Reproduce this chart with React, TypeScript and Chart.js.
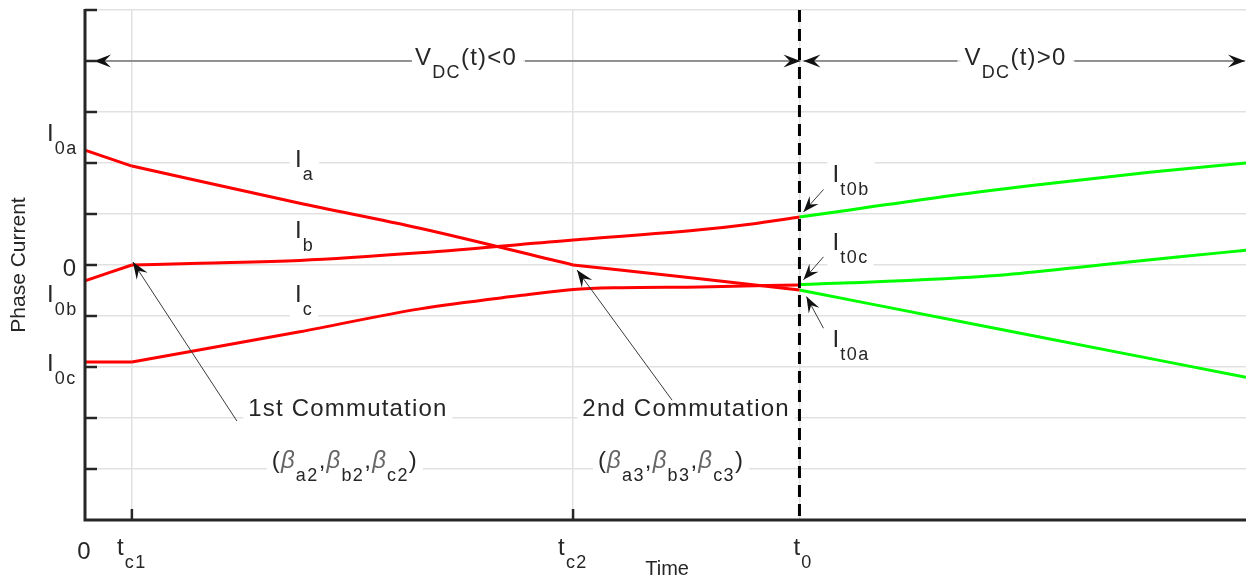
import React, { useEffect, useRef } from 'react';
import { Chart, registerables } from 'chart.js';

Chart.register(...registerables);

// ---- axis / event times ----
const T_C1 = 1.05;
const T_C2 = 10.93;
const T_0 = 16;
const T_END = 26;
const Y_MIN = -5;
const Y_MAX = 5;
const X_GRID_TICKS = [T_C1, T_C2, T_0];

// ---- phase currents before t0 (red) ----
const tA_red = [0, 1.05, 4.81, 7.5, 10.93, 13.77, 16];
const iA_red = [2.25, 1.94, 1.21, 0.72, 0, -0.27, -0.49];
const tB_red = [0, 1.05, 2.58, 4.81, 7.5, 10.93, 13.77, 14.89, 16];
const iB_red = [-0.31, 0, 0.035, 0.09, 0.24, 0.49, 0.69, 0.8, 0.94];
const tC_red = [0, 1.05, 4.81, 7.5, 9.74, 10.93, 12.0, 13.77, 16];
const iC_red = [-1.9, -1.9, -1.31, -0.86, -0.6, -0.48, -0.445, -0.43, -0.39];

// ---- phase currents after t0 (green) ----
const tA_green = [16, 20.49, 26];
const iA_green = [-0.49, -1.26, -2.2];
const tB_green = [16, 17.13, 19.37, 21.6, 23.84, 26];
const iB_green = [0.94, 1.08, 1.36, 1.6, 1.82, 2.0];
const tC_green = [16, 17.13, 20.49, 22.73, 24.52, 26];
const iC_green = [-0.38, -0.35, -0.2, 0, 0.16, 0.29];

// ---- texts ----
const Y_TITLE = 'Phase Current';
const X_TITLE = 'Time';
const COMM1 = '1st Commutation';
const COMM2 = '2nd Commutation';

const RED = '#ff0000';
const GREEN = '#00ff00';
const GRID = '#e1e1e1';
const INK = '#262626';
const BETA_COL = '#666666';
const FONT = '"Liberation Sans", Arial, Helvetica, sans-serif';
const BASE = 24;
const SUB = 18;
const SUB_DROP = 13;

type Part = { t: string; sub?: boolean; it?: boolean; col?: string };
type Pt = { x: number; y: number };

const zip = (xs: number[], ys: number[]): Pt[] => xs.map((x, i) => ({ x, y: ys[i] }));

// split a polyline at the given break times (kinks) into pieces
function pieces(xs: number[], ys: number[], breaks: number[]): Pt[][] {
  const pts = zip(xs, ys);
  const out: Pt[][] = [];
  let cur: Pt[] = [];
  for (const p of pts) {
    cur.push(p);
    if (breaks.includes(p.x) && cur.length > 1) {
      out.push(cur);
      cur = [p];
    }
  }
  if (cur.length > 1) out.push(cur);
  return out;
}

function setFont(ctx: CanvasRenderingContext2D, p: Part) {
  const size = p.sub ? SUB : BASE;
  ctx.font = `${p.it ? 'italic ' : ''}${size}px ${FONT}`;
  (ctx as any).letterSpacing = p.sub ? '1.4px' : '1.2px';
}

function richWidth(ctx: CanvasRenderingContext2D, parts: Part[]) {
  let w = 0;
  for (const p of parts) {
    setFont(ctx, p);
    w += ctx.measureText(p.t).width;
  }
  return w;
}

function drawRich(
  ctx: CanvasRenderingContext2D,
  parts: Part[],
  x: number,
  y: number,
  align: 'left' | 'center',
  box = false,
) {
  ctx.save();
  ctx.textAlign = 'left';
  ctx.textBaseline = 'alphabetic';
  const w = richWidth(ctx, parts);
  let cx = align === 'center' ? x - w / 2 : x;
  const hasSub = parts.some((p) => p.sub);
  if (box) {
    ctx.fillStyle = '#ffffff';
    const top = y - 22;
    const bottom = hasSub ? y + SUB_DROP + 5 : y + 7;
    ctx.fillRect(cx - 5, top, w + 10, bottom - top);
  }
  for (const p of parts) {
    setFont(ctx, p);
    ctx.fillStyle = p.col || INK;
    ctx.fillText(p.t, cx, p.sub ? y + SUB_DROP : y);
    cx += ctx.measureText(p.t).width;
  }
  ctx.restore();
}

function arrowHead(ctx: CanvasRenderingContext2D, fx: number, fy: number, tx: number, ty: number, L = 17, W = 6.5) {
  const dx = tx - fx;
  const dy = ty - fy;
  const len = Math.hypot(dx, dy);
  const ux = dx / len;
  const uy = dy / len;
  const nx = -uy;
  const ny = ux;
  const bx = tx - ux * L;
  const by = ty - uy * L;
  const mx = tx - ux * L * 0.62;
  const my = ty - uy * L * 0.62;
  ctx.beginPath();
  ctx.moveTo(tx, ty);
  ctx.lineTo(bx + nx * W, by + ny * W);
  ctx.lineTo(mx, my);
  ctx.lineTo(bx - nx * W, by - ny * W);
  ctx.closePath();
  ctx.fill();
}

function arrow(ctx: CanvasRenderingContext2D, fx: number, fy: number, tx: number, ty: number, L = 17, W = 6.5) {
  ctx.save();
  ctx.strokeStyle = '#3a3a3a';
  ctx.fillStyle = '#111111';
  ctx.lineWidth = 1;
  ctx.beginPath();
  ctx.moveTo(fx, fy);
  ctx.lineTo(tx, ty);
  ctx.stroke();
  arrowHead(ctx, fx, fy, tx, ty, L, W);
  ctx.restore();
}

const beta = (n: string): Part[] => [
  { t: '(' },
  { t: 'β', it: true, col: BETA_COL },
  { t: 'a' + n, sub: true },
  { t: ',' },
  { t: 'β', it: true, col: BETA_COL },
  { t: 'b' + n, sub: true },
  { t: ',' },
  { t: 'β', it: true, col: BETA_COL },
  { t: 'c' + n, sub: true },
  { t: ')' },
];

const annotPlugin = {
  id: 'annot',
  beforeDatasetsDraw(chart: any) {
    const ctx: CanvasRenderingContext2D = chart.ctx;
    const xs = chart.scales.x;
    const ys = chart.scales.y;
    const px = (v: number) => xs.getPixelForValue(v);
    const py = (v: number) => ys.getPixelForValue(v);
    const yArrow = py(4);

    // in-plot labels with white boxes
    drawRich(ctx, [{ t: 'I' }, { t: 'a', sub: true }], px(T_C1) + 163, py(2) + 4, 'left', true);
    drawRich(ctx, [{ t: 'I' }, { t: 'b', sub: true }], px(T_C1) + 163, py(1) + 24, 'left', true);
    drawRich(ctx, [{ t: 'I' }, { t: 'c', sub: true }], px(T_C1) + 163, py(-1) - 14, 'left', true);
    drawRich(ctx, [{ t: 'I' }, { t: 't0b', sub: true }], px(T_0) + 33, py(2) + 19, 'left', true);
    drawRich(ctx, [{ t: 'I' }, { t: 't0c', sub: true }], px(T_0) + 33, py(0) - 15, 'left', true);
    drawRich(ctx, [{ t: 'I' }, { t: 't0a', sub: true }], px(T_0) + 33, py(-1) + 31, 'left', true);
    drawRich(ctx, [{ t: COMM1 }], px(T_C1) + 216, py(-3) - 2, 'center', true);
    drawRich(ctx, beta('2'), px(T_C1) + 213, py(-4) - 1, 'center', true);
    drawRich(ctx, [{ t: COMM2 }], px(T_C2) + 113, py(-3) - 2, 'center', true);
    drawRich(ctx, beta('3'), px(T_C2) + 98, py(-4) - 1, 'center', true);

    // V_DC arrows
    ctx.save();
    const w1 = richWidth(ctx, [{ t: 'V' }, { t: 'DC', sub: true }, { t: '(t)<0' }]);
    ctx.restore();
    const x1 = px(0) + 330;
    const x2 = px(T_0) + 165;
    ctx.save();
    ctx.fillStyle = '#ffffff';
    ctx.fillRect(x1 - 4, yArrow - 3, w1 + 10, 6);
    ctx.fillRect(x2 - 4, yArrow - 3, w1 + 10, 6);
    ctx.restore();
    drawRich(ctx, [{ t: 'V' }, { t: 'DC', sub: true }, { t: '(t)<0' }], x1, yArrow + 4, 'left');
    drawRich(ctx, [{ t: 'V' }, { t: 'DC', sub: true }, { t: '(t)>0' }], x2, yArrow + 4, 'left');
    arrow(ctx, x1 - 3, yArrow, px(0) + 9, yArrow);
    arrow(ctx, x1 + w1 + 8, yArrow, px(T_0) + 1, yArrow);
    arrow(ctx, x2 - 7, yArrow, px(T_0) + 4, yArrow);
    arrow(ctx, x2 + w1 + 8, yArrow, chart.chartArea.right - 1, yArrow);
  },
  afterDatasetsDraw(chart: any) {
    const ctx: CanvasRenderingContext2D = chart.ctx;
    const xs = chart.scales.x;
    const ys = chart.scales.y;
    const area = chart.chartArea;
    const px = (v: number) => xs.getPixelForValue(v);
    const py = (v: number) => ys.getPixelForValue(v);

    // dashed t0 line
    ctx.save();
    ctx.strokeStyle = '#000000';
    ctx.lineWidth = 3;
    ctx.setLineDash([12, 7]);
    ctx.beginPath();
    ctx.moveTo(px(T_0), area.top);
    ctx.lineTo(px(T_0), area.bottom);
    ctx.stroke();
    ctx.restore();

    // axes
    ctx.save();
    ctx.strokeStyle = INK;
    ctx.lineWidth = 3;
    ctx.beginPath();
    ctx.moveTo(area.left, area.top - 1);
    ctx.lineTo(area.left, area.bottom);
    ctx.lineTo(area.right, area.bottom);
    ctx.stroke();
    ctx.lineWidth = 2.5;
    for (let v = Y_MIN + 1; v <= Y_MAX; v++) {
      ctx.beginPath();
      ctx.moveTo(area.left, py(v));
      ctx.lineTo(area.left + 12, py(v));
      ctx.stroke();
    }
    for (const t of [T_C1, T_C2]) {
      ctx.beginPath();
      ctx.moveTo(px(t), area.bottom);
      ctx.lineTo(px(t), area.bottom - 11);
      ctx.stroke();
    }
    ctx.restore();

    // annotation arrows
    arrow(ctx, px(T_C1) + 105, py(-3) + 3, px(T_C1) + 1, py(0) - 3);
    arrow(ctx, px(T_C2) + 99, py(-2.65), px(T_C2) + 4, py(-0.1));
    arrow(ctx, px(T_0) + 24, py(1.48), px(T_0) + 4, py(1.04), 16, 6);
    arrow(ctx, px(T_0) + 24, py(0.16), px(T_0) + 4, py(-0.29), 16, 6);
    arrow(ctx, px(T_0) + 24, py(-1.24), px(T_0) + 7, py(-0.62), 16, 6);

    // outer labels
    drawRich(ctx, [{ t: 'I' }, { t: '0a', sub: true }], area.left - 38, py(2.43), 'left');
    drawRich(ctx, [{ t: 'I' }, { t: '0b', sub: true }], area.left - 38, py(-0.72), 'left');
    drawRich(ctx, [{ t: 'I' }, { t: '0c', sub: true }], area.left - 38, py(-2.07), 'left');
    ctx.save();
    ctx.font = `${BASE}px ${FONT}`;
    ctx.fillStyle = INK;
    ctx.textAlign = 'right';
    ctx.fillText('0', area.left - 9, py(0) + 11);
    ctx.textAlign = 'center';
    ctx.fillText('0', area.left - 1, area.bottom + 39);
    ctx.restore();
    drawRich(ctx, [{ t: 't' }, { t: 'c1', sub: true }], px(T_C1) - 15, area.bottom + 35, 'left');
    drawRich(ctx, [{ t: 't' }, { t: 'c2', sub: true }], px(T_C2) - 15, area.bottom + 35, 'left');
    drawRich(ctx, [{ t: 't' }, { t: '0', sub: true }], px(T_0) - 6, area.bottom + 35, 'left');

    ctx.save();
    ctx.fillStyle = INK;
    ctx.font = `20px ${FONT}`;
    ctx.textAlign = 'center';
    ctx.fillText(X_TITLE, px(T_C2) + 94, area.bottom + 55);
    ctx.translate(25, py(0));
    ctx.rotate(-Math.PI / 2);
    ctx.font = `21px ${FONT}`;
    ctx.fillText(Y_TITLE, 0, 0);
    ctx.restore();
  },
};

export default function App() {
  const ref = useRef<HTMLCanvasElement | null>(null);
  useEffect(() => {
    if (!ref.current) return;
    const lineDs = (data: Pt[], color: string) => ({
      data,
      showLine: true,
      borderColor: color,
      backgroundColor: color,
      borderWidth: 3,
      pointRadius: 0,
      cubicInterpolationMode: 'monotone',
      fill: false,
    });
    const series: [Pt[][], string][] = [
      [pieces(tA_red, iA_red, [T_C1, T_C2]), RED],
      [pieces(tB_red, iB_red, [T_C1]), RED],
      [pieces(tC_red, iC_red, [T_C1]), RED],
      [pieces(tA_green, iA_green, []), GREEN],
      [pieces(tB_green, iB_green, []), GREEN],
      [pieces(tC_green, iC_green, []), GREEN],
    ];
    const datasets = series.flatMap(([segs, col]) => segs.map((s) => lineDs(s, col)));
    const chart = new Chart(ref.current, {
      type: 'scatter',
      data: { datasets },
      options: {
        responsive: false,
        animation: false,
        layout: { padding: { left: 85, top: 10, right: 0, bottom: 59 } },
        plugins: { legend: { display: false }, tooltip: { enabled: false } },
        scales: {
          x: {
            type: 'linear',
            min: 0,
            max: T_END,
            ticks: { display: false },
            border: { display: false },
            grid: { color: GRID, lineWidth: 1.5, drawTicks: false },
            afterBuildTicks: (s: any) => {
              s.ticks = X_GRID_TICKS.map((v) => ({ value: v }));
            },
            afterFit: (s: any) => {
              s.height = 0;
            },
          },
          y: {
            type: 'linear',
            min: Y_MIN,
            max: Y_MAX,
            ticks: { display: false, stepSize: 1 },
            border: { display: false },
            grid: { color: GRID, lineWidth: 1.5, drawTicks: false },
            afterFit: (s: any) => {
              s.width = 0;
            },
          },
        },
      } as any,
      plugins: [annotPlugin],
    });
    return () => chart.destroy();
  }, []);
  return (
    <div style={{ position: 'fixed', left: 0, top: 0, width: 1246, height: 579, background: '#fff' }}>
      <canvas ref={ref} width={1246} height={579} style={{ display: 'block' }} />
    </div>
  );
}
